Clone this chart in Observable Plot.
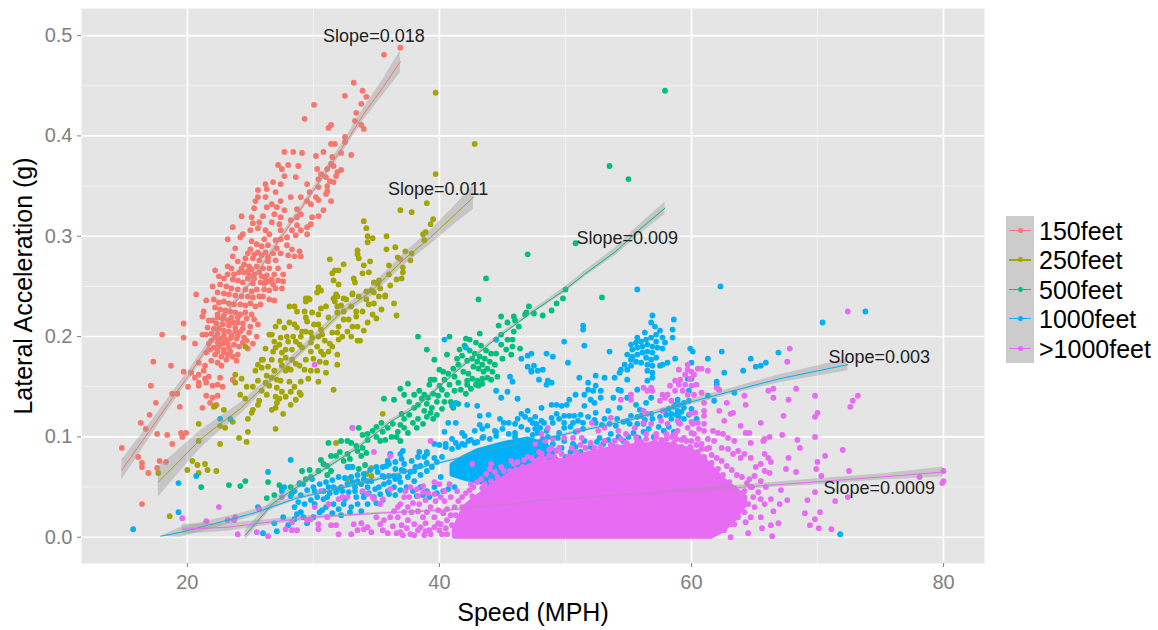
<!DOCTYPE html>
<html><head><meta charset="utf-8">
<script src="https://cdn.jsdelivr.net/npm/d3@7"></script>
<script src="https://cdn.jsdelivr.net/npm/@observablehq/plot@0.6"></script>
<style>html,body{margin:0;background:#fff}#wrap{position:relative;width:1158px;height:630px;font-family:"Liberation Sans",Arial,sans-serif}</style>
</head><body><div id="wrap"></div>
<script>
const seriesNames = ["150feet","250feet","500feet","1000feet",">1000feet"];
const seriesColors = ["#F8766D","#A3A500","#00BF7D","#00B0F6","#E76BF3"];
const slopeLabels = ["Slope=0.018","Slope=0.011","Slope=0.009","Slope=0.003","Slope=0.0009"];
const slopeX = [34.8,39.9,54.9,74.9,74.9];
const slopeY = [.499,.347,.298,.179,.0485];
const xTicks = [20,40,60,80], xMinor = [30,50,70];
const yTicks = [0,.1,.2,.3,.4,.5], yMinor = [.05,.15,.25,.35,.45];

// flat lists: speed, acceleration, speed, acceleration, ...
const pts150 = [36.9,.488,35.6,.481,33.2,.453,33.9,.445,34.2,.439,32.5,.44,33.8,.432,30.05,.431,33.4,.423,29.3,.417,33.3,.415,31.4,.411,31.2,.408,33.8,.411,34,.407,32.5,.399,32.5,.394,31.4,.392,31.7,.392,27.7,.384,28.4,.384,29.1,.383,30.8,.384,30.2,.38,32.2,.383,33,.381,31.5,.379,31.4,.372,27.2,.371,28,.371,28.8,.37,27.5,.367,30.3,.367,31.1,.367,31.6,.37,32.2,.366,31.9,.364,31.8,.36,27.7,.36,28.6,.359,30.6,.362,30.4,.357,31,.359,31.3,.355,26.2,.352,26.8,.354,27.4,.352,29.5,.352,30.4,.349,31.1,.35,31.6,.354,25.6,.346,26.3,.347,27,.344,31,.342,28.2,.339,29,.339,29.7,.344,30.2,.339,31.1,.345,25.6,.339,26.2,.339,25.4,.335,26.7,.332,27.4,.335,29.5,.335,30.4,.336,31.4,.335,25.3,.328,26.3,.329,27.1,.329,27.7,.326,28.7,.327,29.8,.332,30.8,.326,24.3,.32,25.1,.319,26,.32,26.9,.322,27.4,.319,28.7,.319,29,.322,29.9,.319,30.4,.32,25.2,.313,25.7,.314,26.7,.314,27.3,.312,28.2,.316,28.7,.311,29.8,.312,23.6,.309,25,.306,26.2,.306,26.5,.302,25.6,.308,27.4,.306,28.3,.306,29.5,.309,29,.306,23.2,.297,24.4,.302,24.2,.299,26.1,.297,27,.296,27.9,.299,28.6,.301,27.4,.297,29.5,.302,25.1,.295,25.5,.292,25.9,.29,26.4,.291,27.1,.288,27.9,.291,28.3,.287,28.9,.285,23.8,.288,25,.287,25.6,.284,26.2,.284,26.8,.283,27.4,.283,28,.281,28.5,.28,29,.28,23.6,.28,24.6,.278,25.2,.278,25.7,.276,26.4,.275,27,.276,23.2,.27,24.5,.272,24.9,.27,25.5,.27,26,.268,26.5,.268,27.2,.268,28.1,.27,22.2,.266,23.5,.268,24.1,.264,24.5,.264,24.9,.261,25.3,.262,25.9,.26,26.3,.261,26.9,.262,27.6,.262,22.9,.258,23.6,.257,24,.256,24.4,.254,24.8,.258,25.2,.253,25.8,.254,26.4,.255,26.8,.252,22,.25,22.6,.252,23.1,.25,23.5,.248,24,.247,24.6,.247,25.1,.245,25.5,.247,26.1,.247,26.5,.246,22.4,.244,22.9,.243,23.3,.242,23.8,.241,24.3,.24,24.8,.24,25.2,.239,25.7,.24,26,.24,20.7,.242,21.5,.236,22.1,.237,22.5,.234,22.9,.235,23.3,.233,23.7,.232,24.2,.232,24.6,.231,25,.233,25.4,.23,25.8,.232,21.2,.22,21.3,.225,22.2,.229,22.6,.227,23,.226,23.4,.225,23.8,.224,24.2,.222,24.6,.224,25.1,.222,21.7,.216,22,.216,22.4,.219,22.8,.218,23.2,.216,23.6,.214,24,.214,24.4,.213,25.6,.212,21.2,.202,21.5,.202,22.1,.208,22.5,.208,22.9,.206,23.3,.205,23.8,.205,24.2,.205,25,.21,22.2,.199,22.6,.198,23,.197,23.4,.198,23.9,.198,24.5,.199,25.5,.2,21.7,.193,22.1,.189,22.5,.19,22.9,.187,23.3,.189,24.1,.19,24.8,.188,21.5,.184,22.2,.182,22.7,.18,23.2,.182,23.6,.18,24,.182,16.4,.033,14.8,.089,16.1,.08,16.4,.074,16.4,.07,16.9,.064,17.6,.069,17.8,.076,18.3,.075,16.3,.114,16.7,.108,17,.122,17.5,.134,17.1,.151,17.3,.175,18,.202,18.7,.171,19.7,.213,19.7,.199,20.6,.193,17.6,.103,18.4,.102,18.8,.093,19.5,.104,19.9,.104,19.6,.1,18.8,.143,19.2,.143,19.4,.13,19.7,.165,20.05,.15,20.3,.164,20.6,.159,20.9,.162,21.3,.166,20.9,.154,20.9,.151,21.4,.158,21.7,.16,21.5,.154,22,.151,22.6,.159,22.4,.152,22.8,.15,21.5,.141,22,.139,22.4,.141,21.8,.134,21.2,.129,22.2,.131,22.3,.132,23.6,.157,23.9,.176,20.9,.174,21.4,.171,36.9,.277,22.4,.222,22.9,.221,23.5,.219,24,.219,24.7,.218,25.3,.217,22.3,.213,22.8,.212,23.3,.211,23.8,.209,24.4,.208,24.9,.204,21.6,.209,21.9,.203,22.4,.203,22.9,.201,23.5,.201,24,.201,21.9,.196,22.4,.194,22.8,.193,23.2,.193,23.7,.192,24.4,.194,21.8,.187,22.4,.185,22.9,.184,23.4,.185,21.9,.176,22.4,.174,22.7,.171,23.1,.177,24.7,.196,25.2,.193,25.1,.267,25.7,.264,26.2,.258,26.7,.257,27.2,.256,27.6,.255,26.1,.253,27,.248,27.5,.248,26.5,.237,26.9,.236,22.5,.26,23.2,.262,23.7,.262,24.3,.268,24.8,.265,25.3,.258,24,.275,24.8,.283,25.3,.282,25.9,.281,26.4,.279];
const pts250 = [39.7,.443,42.8,.392,39.7,.362,39,.333,36.9,.326,37.8,.324,34,.315,34.2,.308,34.3,.3,34.7,.298,34.3,.294,35.8,.3,35.8,.287,36.5,.289,33.5,.286,33.5,.282,33.6,.278,31.3,.277,34.5,.275,32.4,.272,32,.266,31.5,.263,31.7,.266,34,.271,34.4,.264,33.9,.263,36,.271,36,.262,37.1,.269,37.1,.264,37.7,.276,37.3,.285,37.8,.283,38.8,.296,38.9,.304,39.3,.312,39.5,.317,38.7,.302,36.7,.279,33.2,.258,33.3,.254,31.6,.256,32,.252,30.4,.249,30.6,.246,30.3,.244,34.8,.254,35.2,.256,35.1,.253,36.1,.251,34.6,.246,34.8,.244,31.8,.242,31.6,.238,33.1,.242,32.4,.238,29.4,.238,29.6,.238,35.2,.24,35.7,.241,31.9,.24,31.7,.235,31.9,.23,32.6,.237,33.1,.243,34.2,.237,34.8,.233,35.7,.24,36.4,.233,36.6,.221,35.4,.227,33.9,.225,34.3,.214,28.1,.23,28.5,.23,28.7,.225,29.4,.235,29.7,.237,29.3,.225,29.9,.224,29.4,.219,29.5,.215,30.6,.228,31,.23,30.4,.222,31.2,.219,31.9,.224,32.4,.217,32.8,.217,33.4,.225,33.4,.22,28.1,.214,28.5,.212,27.7,.209,28.7,.209,29.1,.205,30.05,.212,30.4,.212,30.6,.207,31.5,.204,31.9,.204,32,.197,26.7,.202,26.5,.202,27.4,.199,27.9,.2,29.8,.204,30.7,.202,33,.2,33.5,.196,33.7,.196,28.6,.195,28.9,.192,29.1,.189,27.8,.187,27.5,.184,28.3,.187,29.8,.194,30.3,.19,30.6,.185,30.8,.182,31.9,.182,26.2,.188,26.8,.185,24.6,.19,27.8,.179,28.3,.177,29.8,.185,31.9,.172,26.7,.177,25.9,.177,26,.177,25.4,.166,25.9,.169,26.3,.161,26.7,.159,27.1,.157,27.5,.171,27.8,.166,28.2,.167,28.9,.171,29.3,.167,29.8,.166,30.3,.166,31,.164,30.4,.155,31.6,.147,23.8,.162,24.3,.158,23.8,.154,24.7,.15,26.2,.154,26.5,.151,27.1,.149,27.4,.156,26.3,.142,28.9,.144,29,.142,28.6,.137,28.2,.132,27.8,.14,27,.14,27.1,.134,27,.129,26.7,.127,27.6,.123,24.2,.142,24.6,.138,25.7,.136,25.6,.132,25.2,.127,25.1,.124,22.9,.127,22.2,.131,22.1,.13,24.8,.118,27,.108,24.8,.105,24.1,.099,24.7,.095,20.9,.113,22.6,.111,23,.109,23.6,.115,20.9,.096,22.6,.093,20.4,.076,20,.067,20.8,.072,21.4,.073,20.9,.064,21.6,.067,22.3,.066,17.7,.064,18.6,.021,35.5,.123,31.8,.094,32.8,.07,34.2,.063,34.6,.069,34.6,.061,32.7,.058,27.3,.215,27,.21,26.9,.195,27.3,.192,27,.189,28,.195,28.4,.2,29,.2,29.4,.205,29.9,.199,30.4,.2,30.9,.196,31.3,.193,31.2,.185,31.5,.19,32.3,.2,32.7,.205,33.1,.21,33.5,.21,34,.206,34.7,.222,35,.218,32,.21,32.4,.225,33,.23,32.2,.231,34.4,.232,33.6,.24,34.2,.245,35.3,.248,36.6,.257,37,.258,28,.168,27.4,.176,26.4,.17,25.6,.172,26.9,.166,28.6,.173,29.4,.177,30,.178,30.5,.175,31,.174,29,.155,29.6,.158,28.1,.155,28.5,.15,25.2,.15,25.6,.156,28.2,.145,27.3,.138,27.5,.145,25.9,.146];
const pts500 = [57.9,.445,53.5,.37,55,.357,50.8,.293,47,.282,52.9,.239,43.7,.258,43.1,.237,24.2,.051,24.6,.056,26.4,.055,27.3,.052,27.5,.048,26.3,.039,26.9,.042,28.3,.044,28.2,.05,28.9,.054,29.4,.058,29.8,.06,29.1,.066,29.7,.067,30.4,.066,30.8,.073,30.6,.077,31.1,.071,31.1,.062,31.4,.066,31.8,.081,31.4,.081,31.2,.094,32.2,.096,32.7,.096,33,.094,32.1,.085,32.7,.083,32.4,.076,32.9,.078,33.1,.07,33.5,.086,33.9,.089,33.4,.091,33.8,.081,34.2,.084,33.1,.109,33.6,.109,34.3,.097,34.3,.103,34.7,.106,33.9,.102,35,.1,35.3,.096,35.7,.097,35.5,.105,35,.11,35.4,.114,35.9,.109,36.3,.113,36.2,.1,36.6,.1,36.9,.096,36.7,.105,36.9,.112,37.2,.109,37.5,.104,37.2,.118,37.6,.122,37.9,.114,38.2,.109,38.3,.118,38.7,.113,38.8,.126,39,.12,39.3,.124,39.5,.118,39.8,.122,37,.123,37.6,.135,38,.129,38.3,.132,38.6,.138,39,.133,39.4,.129,39.8,.135,40.2,.128,40.4,.135,35.6,.138,36.4,.137,36.9,.148,37.5,.153,37.2,.142,38,.142,38.4,.146,38.8,.142,39.1,.139,39.5,.143,39.9,.141,40.2,.147,40.6,.142,40.9,.135,41.1,.129,41.5,.133,39.2,.152,39.6,.157,40,.151,40.4,.157,40.8,.152,41.2,.16,41.5,.154,41.2,.146,41.7,.147,42.1,.143,42.5,.148,42.9,.152,42.2,.156,42.6,.158,43,.156,43.4,.153,43.8,.159,40.3,.165,40.7,.163,41.1,.168,41.5,.172,41.9,.165,42.3,.163,42.7,.17,43.1,.168,43.5,.165,41.4,.178,41.8,.181,42.2,.176,42.6,.178,43,.175,43.4,.172,43.8,.168,44.2,.165,44.6,.16,41.6,.187,42,.191,42.4,.186,42.8,.183,43.2,.18,43.6,.178,44,.175,44.4,.172,42.4,.197,42.9,.194,43.3,.191,43.7,.186,44.1,.183,44.5,.183,45,.178,43.2,.203,44.5,.197,44.9,.192,45.3,.187,45.7,.182,44.9,.202,45.4,.197,45.8,.19,46.4,.188,45.8,.197,45.9,.205,46.3,.21,46.8,.222,38.3,.2,40.8,.2,42.1,.198,39,.187,39.6,.177,40.6,.182,40,.167,39.3,.157,43.4,.158,44.1,.157,43.1,.151,42.2,.152,39,.083,44.9,.22,45.9,.22,46.9,.224,47.1,.23,45.4,.214,46,.216,47.5,.223,48.2,.221,48.9,.226,49.3,.233,49.8,.238,50,.247,44.7,.211,21.1,.05,23.3,.052,33.6,.068,34.1,.072];
const pts1000 = [70.4,.214,73.8,.225,71.8,.003,62.3,.25,55.7,.247,49.9,.195,51.5,.191,53.5,.185,51.4,.211,51.4,.207,56.9,.221,58.6,.217,58.5,.207,58.5,.199,56.8,.214,57.1,.21,56.3,.204,55.7,.199,57.5,.206,57.2,.202,57.7,.199,57.9,.194,57.7,.188,55.2,.192,55.6,.194,56,.195,56.4,.197,56.8,.199,57.2,.195,55.3,.187,55.7,.189,56.1,.19,56.5,.192,56.9,.19,57.3,.189,54.9,.182,55.3,.18,55.7,.182,56.1,.184,56.5,.185,56.9,.184,55.2,.177,55.6,.175,56.4,.179,56.8,.177,57.2,.179,56,.174,56.5,.172,56.9,.171,54.7,.172,54.4,.167,54.3,.164,54.9,.167,55.2,.171,56.5,.166,56.9,.164,56.9,.159,56.5,.156,57.7,.172,58.1,.174,57.5,.171,58.7,.178,59.9,.188,60.1,.185,60,.174,61.3,.178,62.4,.185,62.6,.164,64.1,.166,64.7,.178,65.1,.17,65.5,.171,65.9,.174,66.9,.184,62,.155,62,.152,60,.158,47.3,.183,48.5,.183,49,.18,50.2,.174,47.5,.171,48.2,.167,47.3,.166,47.8,.166,47.9,.157,48.6,.156,48.9,.154,48.5,.152,51.1,.159,52.4,.161,51.8,.154,52.4,.151,53.1,.159,53.9,.159,54.9,.157,51.8,.147,51.5,.142,52.2,.146,52.8,.146,54.2,.147,54.4,.146,50.8,.142,50.3,.137,52.8,.139,53.8,.139,52.3,.134,51.5,.131,52,.137,50.1,.132,48.9,.132,49.3,.132,49.7,.131,48.1,.129,53.4,.126,52.4,.124,54.3,.129,54.9,.139,55.7,.147,55.6,.132,55.9,.127,56.4,.134,56.8,.139,55.2,.121,56,.121,56.8,.123,50.7,.121,50.3,.121,49.9,.121,49.3,.123,48.9,.119,49.5,.118,49.9,.114,49,.114,48.3,.114,48.1,.116,47.7,.113,47.4,.114,50.6,.114,51.4,.114,52.4,.114,53.1,.118,54,.111,54.9,.116,55.7,.113,56.2,.113,57.9,.126,58.4,.123,58.9,.126,59.4,.129,59.8,.136,58.7,.132,58.9,.137,59.7,.158,59.8,.146,58.4,.118,59,.114,60.4,.118,61.3,.141,61.8,.136,63.4,.144,53.6,.103,52.7,.099,51.5,.096,50.6,.093,49.9,.096,49.7,.089,49.1,.086,47.8,.089,47.4,.096,47.3,.089,47.9,.083,52.4,.083,51.4,.108,49.9,.109,15.7,.008,19.3,.054,20.7,.061,19.3,.025,22.6,.118,23.4,.118,28.2,.077,26.4,.065,26,.004,27.1,.006,25.6,.03,27.7,.05,27.5,.046,28.9,.053,28.5,.046,28.2,.041,29.2,.053,29.9,.058,30.8,.046,31.2,.05,31.6,.05,31.9,.048,32.2,.05,32.7,.053,33.1,.055,33.5,.056,34,.058,34.6,.056,35.1,.065,35.5,.061,36,.061,36.5,.058,36.9,.083,37.1,.086,36.1,.083,35.9,.076,33,.07,32.7,.07,40.4,.197,42.1,.189,44.5,.197,46.5,.178,47,.181,47,.17,47.3,.165,45.6,.16,45.8,.155,45.4,.145,44.5,.146,44.9,.139,46.2,.138,42.2,.132,43,.131,41,.131,41.3,.134,40.7,.114,40.4,.105,41.3,.114,43.2,.121,43.9,.122,43.8,.111,43.4,.108,39.6,.093,40,.092,41.3,.094,41.8,.093,42.3,.096,42.8,.094,43.4,.099,44.4,.106,45.1,.114,45.5,.114,46,.113,46.5,.123,47,.126,28.5,.03,28.7,.023,29,.025,30.1,.033,31.1,.04,31.6,.033,32.4,.033,33,.03,33.5,.033,34,.04,34.3,.033,34.8,.04,35.3,.043,35.9,.046,36.4,.05,36.9,.055,37.5,.06,38,.066,38.5,.071,39,.074,39.6,.079,38,.056,38.5,.05,39,.046,39.6,.05,40.1,.06,37.2,.073,37.8,.076,38.3,.08,39,.085,40.5,.09,30.1,.046,33.3,.046,34.3,.05,35.6,.053,37,.067,33.8,.026,32.2,.022,30.7,.027,36.5,.068,35.8,.071,41,.098,42,.101,44.5,.101,46,.104,26.9,.014,27.6,.02,28,.012,28.5,.018,29.2,.02,29.5,.014,30,.02,30.5,.025,31,.03,31.5,.024,32,.028,32.5,.038,32.9,.025,33.4,.04,33.9,.045,34.4,.044,34.9,.048,35.2,.05,35.6,.06,36,.055,36.4,.061,36.8,.06,37.2,.066,37.7,.065,38.1,.07,38.5,.062,39,.066,39.4,.07,39.8,.075,40.2,.08,38.4,.085,38.8,.08,37.4,.05,37.9,.046,38.2,.041,38.7,.042,39.2,.04,39.8,.044,40.3,.046,40.7,.048,41.2,.05,36,.043,36.5,.042,36.9,.047,35,.034,35.5,.037,30,.05,30.5,.053,31,.055,31.5,.057,32,.06,32.5,.059,33,.06,33.5,.062,34,.063,34.5,.067,35,.07,35.5,.07,36,.073,36.5,.075,37,.078,29.5,.047,29,.042,28.8,.035,29.3,.033,29.8,.037,30.3,.04,30.8,.038,31.3,.044,31.8,.045,32.3,.046,32.8,.045,33.3,.05,33.8,.053,34.3,.056,40.5,.093,41,.088,41.5,.09,42,.092,42.5,.097,43,.095,43.5,.1,44,.098,44.5,.105,45,.108,45.5,.103,46,.1,46.5,.11,47,.107,47.4,.102,47.8,.104,48.2,.098,48.6,.1,49,.093,49.4,.099,41.8,.104,42.8,.106,43.2,.112,44.8,.118,46.2,.118,46.8,.12,47.2,.117,49.6,.075,50,.08,50.4,.085,50.8,.09,51.2,.085,51.6,.08,52,.09,52.5,.095,53,.093,53.4,.097,53.8,.09,54.2,.1,54.6,.096,55,.1,55.4,.104,55.8,.099,56.2,.105,56.6,.108,57,.1,57.4,.11,57.8,.106,58.2,.11,58.6,.105,59,.12,59.4,.118,59.8,.122,60,.128,58.2,.128,58.6,.13,59,.132,59.4,.134,58.8,.122,59.2,.125,58,.122,57.5,.12,56.9,.118,56.3,.117,55.7,.12,55.1,.113,54.6,.115,54.1,.118,53.5,.113,52.9,.112,52.3,.117,51.8,.12,51.2,.122,50.8,.105,50.4,.11,51,.116,49.5,.104,48.5,.106,48,.109,47.6,.108,47.6,.12];
const pts1000plus = [72.4,.225,67.8,.188,67.6,.175,68.3,.148,66.5,.139,67.7,.137,69.8,.141,66.1,.146,66.5,.148,73.2,.141,72.8,.136,72.6,.13,64.2,.141,64.3,.132,70,.124,69.8,.12,67.3,.121,65.5,.114,69.8,.1,67.2,.102,68.4,.097,68.6,.089,72,.087,70.6,.081,70,.075,67.7,.079,67.5,.068,68.3,.065,69.9,.068,70.3,.061,72.5,.066,80,.066,80,.056,79.9,.054,78.1,.06,67.1,.047,67.6,.037,69.2,.037,69.8,.045,71.4,.036,72.4,.04,69,.024,70.2,.025,69.8,.018,69.4,.012,70.1,.009,71.1,.008,66.9,.014,66.3,.012,65.6,.009,66.4,.001,64.5,.004,63.1,0,60.8,.144,61,.134,62,.149,62.2,.147,62.8,.134,62.2,.126,63.1,.123,63.3,.124,62.6,.116,61,.126,61,.121,60.5,.114,63.9,.111,64.3,.104,64.6,.104,65.8,.098,66.2,.1,65.7,.096,64.7,.094,63.4,.096,62.9,.099,62.5,.103,62.1,.104,61.7,.106,61,.106,60.6,.108,60.2,.103,61.3,.098,61.8,.096,60.8,.093,61.4,.089,62.4,.089,62.9,.088,63.7,.086,63.3,.083,64.2,.083,63.9,.079,64.7,.079,65.8,.083,66.1,.079,66.3,.075,65.5,.073,65.1,.07,65.8,.066,66.2,.064,65,.061,65.5,.056,64.6,.058,65.9,.05,64.7,.05,64.2,.046,65.3,.045,66.3,.038,67,.033,66.5,.026,65.8,.033,65.5,.038,64.9,.04,64.5,.033,65,.03,65.5,.02,64.7,.02,64.2,.025,63.7,.02,63.1,.013,63.4,.013,62.6,.007,62.1,.013,62.5,.02,63.1,.03,63.7,.033,59.7,.172,59.7,.167,60,.165,60.5,.168,60.8,.168,61.3,.166,59,.167,59.5,.162,59.9,.158,60.2,.162,59.1,.157,58.7,.156,58.3,.151,59,.152,59.5,.152,60,.151,60.4,.152,58.1,.142,57.7,.142,58.7,.146,59.3,.146,59.7,.142,60.2,.142,57.9,.139,58.4,.136,56.8,.149,56.2,.149,56.5,.146,56.9,.146,55.2,.142,55.2,.137,54.4,.137,57.5,.136,57.7,.126,56.2,.126,56.5,.123,58.9,.116,59.9,.123,60.3,.124,60.1,.113,48.1,.103,48.6,.109,49.3,.086,49.9,.099,51,.106,51.3,.099,52.1,.114,52.6,.106,53.6,.119,53.1,.109,54.2,.106,54.8,.103,55.5,.109,56.2,.114,56.8,.113,57.6,.116,58.1,.113,59.1,.113,58.9,.106,59.7,.109,60,.104,47.6,.093,50.6,.099,49,.098,48.4,.096,47.3,.079,48.1,.083,48.9,.089,49.7,.083,50.5,.089,51.6,.089,52.3,.089,53.1,.096,53.9,.096,54.9,.093,55.7,.096,56.4,.103,57.2,.103,58,.103,58.7,.103,59.4,.099,19.6,.019,22.5,.03,21.5,.016,23.2,.017,23.8,.02,23.7,.017,24,.003,25.5,.005,26.4,.001,25.7,.028,27.5,.04,27.8,.008,28.3,.007,28.7,.007,28.3,.015,29.5,.017,29.8,.018,30.4,.013,30.4,.008,31.4,.012,31.8,.012,32,.003,33.5,.007,34,.008,34.3,.01,35.3,.013,35.5,.007,35.6,.017,36.1,.02,36.7,.02,36.9,.005,37.1,.002,38,.002,38.3,.007,38.8,.002,39.2,.007,39.6,.01,38,.013,37.5,.017,37.2,.025,38.3,.026,38.7,.02,39,.025,39.6,.02,40,.007,40.1,.013,40.6,.017,40.6,.003,36.7,.03,37.2,.04,37.6,.04,38.3,.041,38.7,.051,39.6,.055,40,.053,35.3,.033,34.8,.038,36.1,.048,37.3,.046,40.4,.036,40.9,.04,41.4,.046,42.5,.053,43.7,.063,44.1,.056,45.1,.066,45.7,.076,45.9,.073,40.8,.053,39.3,.096,42.6,.073,44.1,.073,36.1,.081,34.8,.085,33.1,.109,30.1,.172,30.6,.046,31.2,.033,32,.038,32.3,.04,32.7,.04,33.9,.046,34.3,.043,34.7,.04,35.5,.038,33.2,.013,30.1,.03,31.1,.02,37,.012,37.8,.025,38.9,.014,39.9,.027,41,.012,41.3,.022,41.8,.03,42.2,.008,42.6,.041,43,.022,43.4,.049,44,.038,44.6,.06,45.2,.051,46.1,.067,46.7,.077,47.2,.071,46.5,.058,47.9,.078,48.7,.081,49.4,.076,50.2,.08,51,.083,51.8,.082,52.6,.085,53.3,.087,54.1,.09,54.8,.088,55.6,.092,56.4,.09,57.1,.095,57.9,.092,58.6,.094,59.2,.09,59.9,.09,60.5,.085,61,.08,61.6,.074,62.1,.068,62.5,.062,63,.055,63.4,.049,63.9,.043,64.1,.037,33,.003,33.8,.014,34.6,.005,35,.02,35.9,.004,36.3,.011,36.6,.004,37.4,.009,37.7,.003,38.5,.01,38.9,.006,39.3,.003,39.9,.014,40.2,.003,40.5,.009,36.4,.026,36.9,.033,37.5,.03,37.9,.034,38.4,.033,38.9,.037,39.3,.03,39.7,.036,40.1,.04,40.4,.046,40.6,.028,40.9,.022,40.3,.024,39.6,.043,39.1,.044,38.7,.045,38.2,.048,37.7,.05,41.2,.03,41.5,.036,41.8,.04,42.1,.044,42.4,.047,42.7,.05,43,.055,43.3,.058,43.6,.053,44,.068,44.4,.065,44.9,.07,45.3,.06,45.6,.066,46.2,.075,46.6,.07,47,.08,47.5,.076,47.9,.085,48.3,.078,48.7,.087,49.1,.08,49.5,.089,49.9,.076,50.4,.08,50.8,.085,51.2,.092,51.6,.078,52,.094,52.4,.08,52.8,.09,53.2,.083,53.6,.092,54,.085,54.4,.098,54.8,.094,55.2,.088,55.6,.1,56,.095,56.4,.098,56.8,.093,57.2,.1,57.6,.097,58,.098,58.4,.1,58.8,.098,59.2,.097,59.6,.096,60,.096,60.4,.092,60.8,.088,61.2,.088,61.6,.082,62,.079,62.4,.076,62.8,.071,63.2,.067,63.6,.062,64,.06,64.4,.054,64.8,.05,61.9,.005,62.2,.008,62.7,.014,63,.02,63.3,.026,63.6,.027,64,.03,64.3,.015,60,.115,61,.113,60.5,.098];
// solid, fully overprinted parts of the two densest clouds: speed, lower and upper edge
const coreBlueX = [41,42,43,45,47,48.5,49.3];
const coreBlueLow = [.062,.058,.055,.05,.05,.05,.06];
const coreBlueHigh = [.072,.08,.086,.093,.098,.092,.078];
const corePinkX = [41.2,42,44,46,48,50,52,54,56,58,60,61,61.6,62.5,63.5,64.3];
const corePinkLow = [0,0,0,0,0,0,0,0,0,0,0,0,0,.006,.018,.032];
const corePinkHigh = [.008,.03,.05,.066,.074,.077,.084,.089,.092,.093,.087,.078,.07,.058,.048,.04];
// fitted lines: speed, acceleration, half-width of the confidence band
const fit150X = [14.8,17,18.5,20.2,22,23.4,24.4,26,27.4,29,31,32.5,34,35.5,36.9];
const fit150Y = [.067,.106,.133,.163,.197,.229,.243,.272,.298,.327,.364,.392,.422,.448,.474];
const fit150H = [.01,.007,.006,.005,.004,.003,.003,.003,.003,.003,.004,.005,.006,.008,.011];
const fit250X = [17.7,19.2,21,22.5,24.2,26.3,28,29.5,32.1,34.5,37.1,39.3,41.1,42.7];
const fit250Y = [.055,.074,.097,.112,.128,.153,.173,.191,.223,.244,.276,.299,.32,.339];
const fit250H = [.015,.012,.009,.007,.006,.004,.004,.004,.004,.005,.006,.007,.009,.012];
const fit500X = [24.6,26.8,30,33.5,36.1,38.3,41.4,44.3,47.2,50,51.5,54,56,57.9];
const fit500Y = [.002,.034,.061,.089,.115,.131,.166,.196,.223,.247,.262,.285,.308,.328];
const fit500H = [.005,.004,.003,.002,.002,.002,.002,.002,.002,.003,.003,.004,.005,.006];
const fit1000X = [17.9,19.5,23.2,25.5,28.7,34,39.3,43.3,47.2,55.2,60,63,67,72.4];
const fit1000Y = [.001,.005,.017,.025,.039,.054,.072,.084,.095,.117,.135,.145,.158,.172];
const fit1000H = [0,.005,.004,.003,.002,.002,.001,.001,.001,.002,.003,.003,.004,.006];
const fitPlusX = [19.6,23.2,25.8,30,35.3,40.6,45.9,47.2,55.2,63,69.7,75,80];
const fitPlusY = [.008,.01,.014,.02,.024,.027,.032,.035,.042,.049,.055,.06,.065];
const fitPlusH = [.005,.004,.003,.002,.001,.001,.001,.001,.001,.002,.003,.003,.005];

const toRows = flat => d3.range(0, flat.length, 2).map(i => ({x: flat[i], y: flat[i+1]}));
const fitRows = (xs, ys, hs) => xs.map((x,i) => ({x, y: ys[i], lo: ys[i]-hs[i], hi: ys[i]+hs[i]}));
const coreRows = (xs, lo, hi) => xs.map((x,i) => ({x, lo: lo[i], hi: hi[i]}));
const allPts = [pts150, pts250, pts500, pts1000, pts1000plus].map(toRows);
const fits = [fitRows(fit150X,fit150Y,fit150H),fitRows(fit250X,fit250Y,fit250H),fitRows(fit500X,fit500Y,fit500H),fitRows(fit1000X,fit1000Y,fit1000H),fitRows(fitPlusX,fitPlusY,fitPlusH)];

const marks = [
  Plot.frame({fill:"#e5e5e5", stroke:"none"}),
  Plot.ruleX(xMinor,{stroke:"#f2f2f2", strokeWidth:1}),
  Plot.ruleY(yMinor,{stroke:"#f2f2f2", strokeWidth:1}),
  Plot.ruleX(xTicks,{stroke:"#fff", strokeWidth:1.6}),
  Plot.ruleY(yTicks,{stroke:"#fff", strokeWidth:1.6}),
  Plot.axisX({ticks:xTicks, tickSize:4, tickPadding:7, fontSize:20, color:"#7f7f7f", label:null}),
  Plot.axisY({ticks:yTicks, tickSize:4, tickPadding:5, fontSize:20, color:"#7f7f7f", tickFormat:d3.format(".1f"), label:null}),
  Plot.text(["Speed (MPH)"],{frameAnchor:"bottom", dy:57, text:d=>d, fontSize:25, fill:"#000"}),
  Plot.text(["Lateral Acceleration (g)"],{frameAnchor:"left", textAnchor:"middle", dx:-58, rotate:-90, text:d=>d, fontSize:25, fill:"#000"})
];
allPts.forEach((rows,i)=>{
  if(i===3) marks.push(Plot.areaY(coreRows(coreBlueX,coreBlueLow,coreBlueHigh),{x:"x",y1:"lo",y2:"hi",fill:seriesColors[3],stroke:seriesColors[3],strokeWidth:4,strokeLinejoin:"round"}));
  if(i===4) marks.push(Plot.areaY(coreRows(corePinkX,corePinkLow,corePinkHigh),{x:"x",y1:"lo",y2:"hi",fill:seriesColors[4],stroke:seriesColors[4],strokeWidth:4,strokeLinejoin:"round"}));
  marks.push(Plot.dot(rows,{x:"x",y:"y",r:2.9,fill:seriesColors[i],stroke:"none"}));
});
fits.forEach((rows,i)=>{
  marks.push(Plot.areaY(rows,{x:"x",y1:"lo",y2:"hi",fill:"#999999",fillOpacity:.4}));
  marks.push(Plot.line(rows,{x:"x",y:"y",stroke:seriesColors[i],strokeWidth:1,strokeLinejoin:"round"}));
});
marks.push(Plot.text(slopeLabels,{x:(d,i)=>slopeX[i],y:(d,i)=>slopeY[i],text:d=>d,fontSize:18,fill:"#222"}));

const chart = Plot.plot({
  width:1158,height:630,marginLeft:81,marginRight:174,marginTop:8,marginBottom:67,
  style:{fontFamily:'"Liberation Sans",Arial,sans-serif',background:"#fff",overflow:"visible"},
  x:{domain:[11.6,83.25],axis:null},
  y:{domain:[-.0262,.527],axis:null},
  marks
});
const wrap=document.getElementById("wrap");wrap.appendChild(chart);
chart.style.display="block";
const legend=d3.select(wrap).append("div").style("position","absolute").style("left","1006px").style("top","216px");
seriesNames.forEach((n,i)=>{
  const row=legend.append("div").style("position","relative").style("height","29.4px").style("white-space","nowrap");
  const key=row.append("div").style("position","absolute").style("left","0").style("top","0").style("width","28px").style("height","29.4px").style("background","#cccccc");
  key.append("div").style("position","absolute").style("left","3px").style("width","22px").style("top","14px").style("height","1.3px").style("background",seriesColors[i]);
  key.append("div").style("position","absolute").style("left","11.5px").style("top","12px").style("width","5px").style("height","5px").style("border-radius","50%").style("background",seriesColors[i]);
  row.append("div").text(n).style("position","absolute").style("left","33px").style("top","1px").style("font-size","25px").style("line-height","29px").style("color","#000");
});
</script></body></html>
